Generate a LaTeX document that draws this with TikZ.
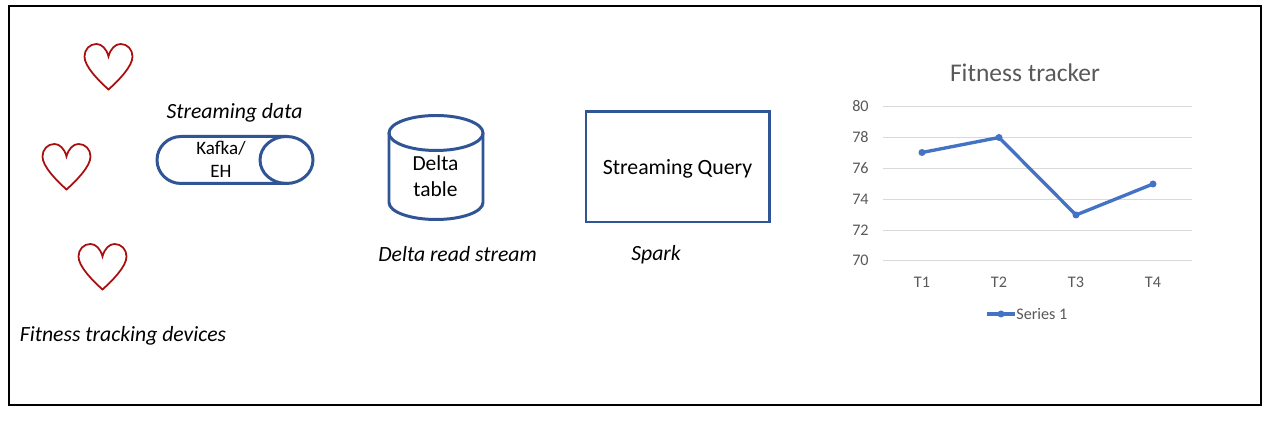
\documentclass[tikz,border=0pt]{standalone}
\usepackage{fontspec}
\setmainfont{Carlito}
\definecolor{shapeblue}{HTML}{2F5597}
\definecolor{heartred}{HTML}{A80F0F}
\definecolor{seriesblue}{HTML}{4472C4}
\definecolor{chartgray}{HTML}{595959}
\definecolor{gridgray}{HTML}{D9D9D9}
\tikzset{
  shapeline/.style={draw=shapeblue, line width=1.7pt},
  heartline/.style={draw=heartred, line width=1.0pt, line join=miter},
  caption/.style={font=\fontsize{12.35}{14}\selectfont\itshape, inner sep=0pt},
  shapetext/.style={font=\fontsize{10.8}{13}\selectfont, align=center, inner sep=0pt},
  charttext/.style={font=\fontsize{9.2}{11}\selectfont, text=chartgray, inner sep=0pt},
  heart/.pic={
    \draw[heartline] (0,0) .. controls (-2,-8) and (-7,-12.5) .. (-12,-12.5)
      .. controls (-19,-12.5) and (-24,-7) .. (-24,0)
      .. controls (-24,10) and (-10,24) .. (0,33)
      .. controls (10,24) and (24,10) .. (24,0)
      .. controls (24,-7) and (19,-12.5) .. (12,-12.5)
      .. controls (7,-12.5) and (2,-8) .. (0,0) -- cycle;
  }
}

\begin{document}
\begin{tikzpicture}[x=0.02cm, y=-0.02cm]
    \useasboundingbox (0, 0) rectangle (1275, 421);
    \fill[white] (0, 0) rectangle (1275, 421);
    \draw[black, line width=1.1pt] (9, 6) rectangle (1261, 405);

    % devices
    \pic at (108.5, 56.5) {heart};
    \pic at (66.5, 156.5) {heart};
    \pic at (102.5, 256.5) {heart};
    \node[caption] (devices) at (123, 335.5) {Fitness tracking devices};

    % stream
    \node[caption] (streaming) at (234.5, 113) {Streaming data};
    \draw[shapeline] (287, 136.5) -- (181, 136.5) arc[start angle=270, end angle=90, x radius=24, y radius=23.5] -- (287, 183.5);
    \draw[shapeline] (286.5, 160) ellipse[x radius=26.5, y radius=23.5];
    \node[shapetext] (kafka) at (221, 159.5) {Kafka/\\EH};

    % delta
    \draw[shapeline] (389, 133) -- (389, 202.5) arc[start angle=180, end angle=360, x radius=47, y radius=-17] -- (483, 133);
    \draw[shapeline] (436, 133) ellipse[x radius=47, y radius=17.5];
    \node[shapetext, font=\fontsize{12.2}{14.8}\selectfont] (delta) at (435.5, 176.5) {Delta\\table};
    \node[caption] (readstream) at (457.5, 254) {Delta read stream};

    % spark
    \draw[shapeline] (586, 112) rectangle (769, 222) node[midway, shapetext, font=\fontsize{12.4}{15}\selectfont, yshift=-1.2pt] (query) {Streaming Query};
    \node[caption] (spark) at (656, 254.5) {Spark};

    % chart
    \node[charttext, font=\fontsize{14.5}{17}\selectfont] (title) at (1025, 73) {Fitness tracker};
    \foreach \val/\ypos in {80/106.5, 78/137.5, 76/168.5, 74/199, 72/230, 70/260.5} {
      \draw[gridgray, line width=0.5pt] (883, \ypos) -- (1192, \ypos);
      \node[charttext, anchor=east] (tick\val) at (869, \ypos) {\val};
    }
    \foreach \name/\xpos in {T1/922, T2/999, T3/1076, T4/1153} {
      \node[charttext] (label\name) at (\xpos, 282.5) {\name};
    }
    \coordinate (p1) at (922, 152.5);
    \coordinate (p2) at (999, 137.5);
    \coordinate (p3) at (1076, 215);
    \coordinate (p4) at (1153, 184);
    \draw[seriesblue, line width=1.9pt] (p1) -- (p2) -- (p3) -- (p4);
    \foreach \pt in {p1, p2, p3, p4} {
      \fill[seriesblue] (\pt) circle (3.5);
    }
    \coordinate (legendstart) at (987, 314);
    \coordinate (legendend) at (1015, 314);
    \draw[seriesblue, line width=1.9pt] (legendstart) -- (legendend);
    \fill[seriesblue] (1001, 314) circle (3.5);
    \node[charttext, anchor=west] (legend) at (1016, 314) {Series 1};
\end{tikzpicture}
\end{document}
